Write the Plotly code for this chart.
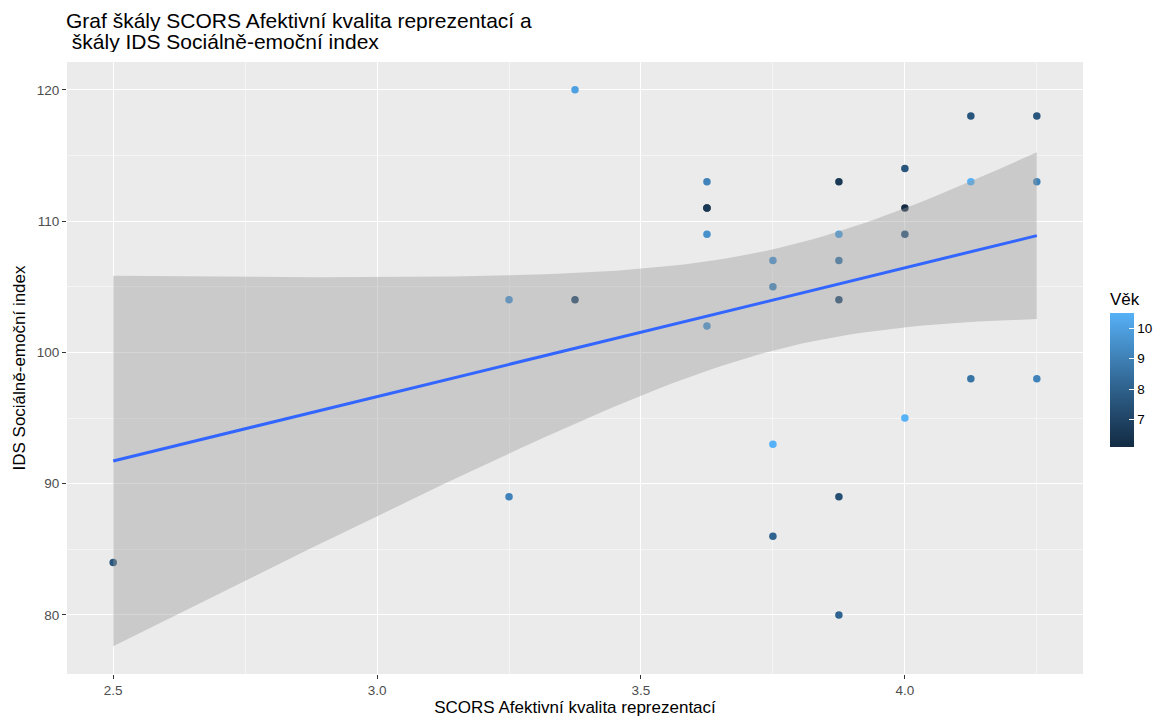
import numpy as np
import plotly.graph_objects as go

# SCORS Afektivní kvalita reprezentací
scors = [2.5, 3.25, 3.25, 3.375, 3.375, 3.625, 3.625, 3.625, 3.625, 3.625,
         3.75, 3.75, 3.75, 3.75, 3.875, 3.875, 3.875, 3.875, 3.875, 3.875,
         4.0, 4.0, 4.0, 4.0, 4.125, 4.125, 4.125, 4.25, 4.25, 4.25]
# IDS Sociálně-emoční index
ids = [84, 104, 89, 120, 104, 113, 111, 111, 109, 102,
       107, 105, 93, 86, 113, 109, 107, 104, 89, 80,
       114, 111, 109, 95, 118, 113, 98, 118, 113, 98]
# Věk
vek = [7.6, 9.6, 9.1, 10.0, 7.2, 9.1, 6.6, 6.6, 9.5, 9.6,
       9.6, 9.2, 10.5, 8.1, 6.6, 10.0, 8.7, 7.4, 7.4, 8.1,
       7.6, 6.1, 7.6, 10.5, 7.6, 10.5, 8.6, 7.6, 9.1, 9.1]

x = np.array(scors, float)
y = np.array(ids, float)
n = len(x)

# linear model with 95% confidence band
xbar, ybar = x.mean(), y.mean()
sxx = ((x - xbar) ** 2).sum()
slope = ((x - xbar) * (y - ybar)).sum() / sxx
intercept = ybar - slope * xbar
resid = y - (intercept + slope * x)
s = np.sqrt((resid ** 2).sum() / (n - 2))
try:
    from scipy.stats import t as t_dist
    t_crit = float(t_dist.ppf(0.975, n - 2))
except ImportError:
    t_crit = {27: 2.051831, 28: 2.048407, 29: 2.045230}.get(n - 2, 2.05)
xs = np.linspace(x.min(), x.max(), 80)
fit = intercept + slope * xs
half = t_crit * s * np.sqrt(1 / n + (xs - xbar) ** 2 / sxx)
lo, hi = fit - half, fit + half


# gradient #132B43 -> #56B1F7 interpolated in Lab
def hex2rgb(h):
    return np.array([int(h[i:i + 2], 16) / 255 for i in (1, 3, 5)])


def rgb2lab(c):
    c = np.where(c > 0.04045, ((c + 0.055) / 1.055) ** 2.4, c / 12.92)
    M = np.array([[0.4124, 0.3576, 0.1805],
                  [0.2126, 0.7152, 0.0722],
                  [0.0193, 0.1192, 0.9505]])
    xyz = M @ c / np.array([0.95047, 1.0, 1.08883])
    f = np.where(xyz > 0.008856, np.cbrt(xyz), 7.787 * xyz + 16 / 116)
    return np.array([116 * f[1] - 16, 500 * (f[0] - f[1]), 200 * (f[1] - f[2])])


def lab2rgb(lab):
    L, a, b = lab
    fy = (L + 16) / 116
    fx = fy + a / 500
    fz = fy - b / 200
    f = np.array([fx, fy, fz])
    xyz = np.where(f ** 3 > 0.008856, f ** 3, (f - 16 / 116) / 7.787)
    xyz = xyz * np.array([0.95047, 1.0, 1.08883])
    Minv = np.array([[3.2406, -1.5372, -0.4986],
                     [-0.9689, 1.8758, 0.0415],
                     [0.0557, -0.2040, 1.0570]])
    c = Minv @ xyz
    c = np.where(c > 0.0031308, 1.055 * np.clip(c, 0, None) ** (1 / 2.4) - 0.055, 12.92 * c)
    c = np.clip(c, 0, 1)
    return "rgb(%d,%d,%d)" % tuple(np.round(c * 255))


lab_lo, lab_hi = rgb2lab(hex2rgb("#132B43")), rgb2lab(hex2rgb("#56B1F7"))
colorscale = [[t, lab2rgb(lab_lo + t * (lab_hi - lab_lo))] for t in np.linspace(0, 1, 11)]

font = "Liberation Sans, Arial, sans-serif"

fig = go.Figure()

fig.add_trace(go.Scatter(
    x=scors, y=ids, mode="markers",
    marker=dict(size=7.5, color=vek, colorscale=colorscale,
                cmin=min(vek), cmax=max(vek),
                line=dict(width=0),
                colorbar=dict(
                    title=dict(text="Věk", side="top",
                               font=dict(size=17, color="#000000", family=font)),
                    thickness=24, len=158, lenmode="pixels",
                    x=1.0266, xanchor="left", xpad=0,
                    y=0.5, yanchor="middle", ypad=0,
                    outlinewidth=0, tickvals=[7, 8, 9, 10],
                    ticks="inside", ticklen=5, tickcolor="white", tickwidth=1,
                    ticklabelposition="outside",
                    tickfont=dict(size=13.5, color="#000000", family=font))),
    showlegend=False, hoverinfo="skip"))

# confidence ribbon
fig.add_trace(go.Scatter(
    x=np.concatenate([xs, xs[::-1]]), y=np.concatenate([hi, lo[::-1]]),
    fill="toself", fillcolor="rgba(153,153,153,0.4)",
    line=dict(width=0), mode="lines", showlegend=False, hoverinfo="skip"))

# fitted line
fig.add_trace(go.Scatter(
    x=xs, y=fit, mode="lines", line=dict(color="#3366FF", width=3),
    showlegend=False, hoverinfo="skip"))

ymin = min(y.min(), lo.min())
ymax = max(y.max(), hi.max())
yr = ymax - ymin
xr = x.max() - x.min()

axis_common = dict(
    showgrid=True, gridcolor="white", gridwidth=1.2,
    zeroline=False, showline=False, automargin=False,
    ticks="outside", ticklen=4, tickcolor="#333333", tickwidth=1,
    tickfont=dict(size=13.5, color="#4D4D4D", family=font),
)

title_font = dict(size=21, color="#000000", family=font)

fig.update_layout(
    width=1166, height=717,
    margin=dict(l=67, r=83, t=62, b=43, autoexpand=False),
    paper_bgcolor="white", plot_bgcolor="#EBEBEB",
    font=dict(family=font),
    xaxis=dict(
        **axis_common,
        range=[x.min() - 0.05 * xr, x.max() + 0.05 * xr],
        tickvals=[2.5, 3.0, 3.5, 4.0], ticktext=["2.5", "3.0", "3.5", "4.0"],
        minor=dict(showgrid=True, gridcolor="#F5F5F5", gridwidth=0.6,
                   tickvals=[2.75, 3.25, 3.75, 4.25], ticks=""),
        title=dict(text="SCORS Afektivní kvalita reprezentací", standoff=4,
                   font=dict(size=17, color="#000000", family=font))),
    yaxis=dict(
        **axis_common,
        range=[ymin - 0.05 * yr, ymax + 0.05 * yr],
        tickvals=[80, 90, 100, 110, 120],
        minor=dict(showgrid=True, gridcolor="#F5F5F5", gridwidth=0.6,
                   tickvals=[85, 95, 105, 115], ticks=""),
        title=dict(text="IDS Sociálně-emoční index", standoff=6,
                   font=dict(size=17, color="#000000", family=font))),
    annotations=[
        dict(text="Graf škály SCORS Afektivní kvalita reprezentací a",
             xref="paper", yref="paper", x=0, y=1, xanchor="left", yanchor="bottom",
             xshift=-2, yshift=30, height=21, valign="middle", borderpad=0,
             showarrow=False, font=title_font),
        dict(text="\u00a0škály IDS Sociálně-emoční index",
             xref="paper", yref="paper", x=0, y=1, xanchor="left", yanchor="bottom",
             xshift=-2, yshift=9, height=21, valign="middle", borderpad=0,
             showarrow=False, font=title_font),
    ],
)

fig.write_html("out.html")
